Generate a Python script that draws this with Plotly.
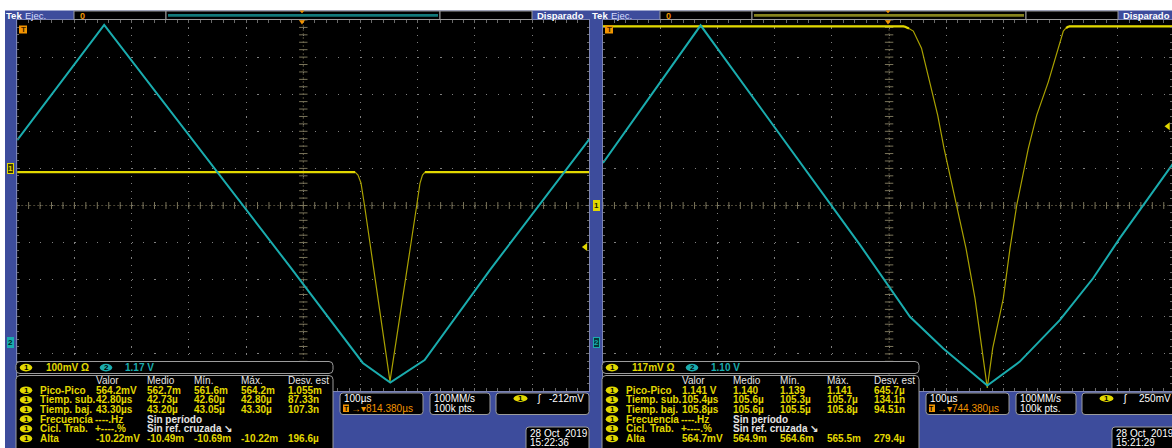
import numpy as np
import plotly.graph_objects as go

W, H = 1172, 448

# ------------------------------------------------------------------ data
time_div_us = 100                      # µs / division, 10 divisions on screen

# ---- left capture (28 Oct 2019 15:22:36)
L_ch1_scale, L_ch1_pos = 100, 1.0      # mV/div, ground position (div)
L_ch2_scale, L_ch2_pos = 1.17, -3.68   # V/div, ground position (div)
L_trig_mv = -212
L_t_ch1 = [0, 590.4, 595.6, 600.8, 607.0, 651.5, 698.2, 704.0, 708.3, 712.7, 1000]
L_v_ch1 = [-10, -10, -17.8, -39.4, -100, -574, -100, -39.4, -17.8, -10, -10]          # mV
L_t_ch2 = [0, 152, 477, 604, 652, 712, 826, 1000]
L_v_ch2 = [6.37, 10.0, 2.37, -0.66, -1.28, -0.57, 2.27, 6.40]                          # V

# ---- right capture (28 Oct 2019 15:21:29)
R_ch1_scale, R_ch1_pos = 117, 0.0
R_ch2_scale, R_ch2_pos = 1.10, -3.68
R_trig_mv = 250
R_t_ch1 = [0, 526, 534.7, 542.3, 556.6, 571.5, 584.9, 596.0, 618.1, 634.4, 650.1, 661.8, 671.6,
           681.1, 699.6, 711.3, 723.0, 743.3, 758.0, 778.3, 795.8, 804.5, 809.3, 814.4, 1000]
R_v_ch1 = [565, 565, 558, 550, 496, 390, 285, 180, 0, -135, -293, -450, -575,
           -450, -293, -135, 0, 180, 285, 390, 496, 550, 560, 565, 565]
R_t_ch2 = [0, 170.6, 449.1, 501.6, 536.5, 594.7, 671.6, 728.4, 798.3, 856.5, 903.2, 1000]
R_v_ch2 = [5.31, 9.39, 2.88, 1.59, 0.75, -0.19, -1.29, -0.58, 0.65, 1.89, 3.08, 5.38]

meas_header = ["Valor", "Medio", "Mín.", "Máx.", "Desv. est"]
L_rows = [
    ("Pico-Pico", ["564.2mV", "562.7m", "561.6m", "564.2m", "1.055m"]),
    ("Tiemp. sub.", ["42.80µs", "42.73µ", "42.60µ", "42.80µ", "87.33n"]),
    ("Tiemp. baj.", ["43.30µs", "43.20µ", "43.05µ", "43.30µ", "107.3n"]),
    ("Frecuencia", ["----.Hz", "Sin período"]),
    ("Cicl. Trab.", ["+----.%", "Sin ref. cruzada ↘"]),
    ("Alta", ["-10.22mV", "-10.49m", "-10.69m", "-10.22m", "196.6µ"]),
]
R_rows = [
    ("Pico-Pico", ["1.141 V", "1.140", "1.139", "1.141", "645.7µ"]),
    ("Tiemp. sub.", ["105.4µs", "105.6µ", "105.3µ", "105.7µ", "134.1n"]),
    ("Tiemp. baj.", ["105.8µs", "105.6µ", "105.5µ", "105.8µ", "94.51n"]),
    ("Frecuencia", ["----.Hz", "Sin período"]),
    ("Cicl. Trab.", ["+----.%", "Sin ref. cruzada ↘"]),
    ("Alta", ["564.7mV", "564.9m", "564.6m", "565.5m", "279.4µ"]),
]
L_info = dict(ch1="100mV Ω", ch2="1.17 V", hscale="100µs", delay="814.380µs",
              rate="100MM/s", pts="100k pts.", trig="-212mV", date="28 Oct\u00a0\u00a02019",
              time="15:22:36")
R_info = dict(ch1="117mV Ω", ch2="1.10 V", hscale="100µs", delay="744.380µs",
              rate="100MM/s", pts="100k pts.", trig="250mV", date="28 Oct\u00a0\u00a02019",
              time="15:21:29")

# ------------------------------------------------------------------ styles
BLUE = "#3d4c9c"
YEL = "#e2d800"
YEL_DIM = "#aaa200"
TEAL = "#1aacae"
ORANGE = "#f29400"
GRID = "#808080"
TICK = "#6a6a6a"
FRAME = "#7c84b4"
BOXLINE = "#9c9c9c"
FONT = "Liberation Sans"
TS = 10            # table / readout text size

shapes, annotations = [], []


def X(px):
    return px / W


def Y(py):
    return 1 - py / H


def rect(x0, y0, x1, y1, fill, line=None, lw=1, layer="above"):
    shapes.append(dict(type="rect", xref="paper", yref="paper", x0=X(x0), x1=X(x1),
                       y0=Y(y1), y1=Y(y0), fillcolor=fill, layer=layer,
                       line=dict(color=line or fill, width=lw if line else 0)))


def rrect(x0, y0, x1, y1, r, fill, line=BOXLINE):
    p = (f"M{X(x0 + r)},{Y(y0)} L{X(x1 - r)},{Y(y0)} Q{X(x1)},{Y(y0)} {X(x1)},{Y(y0 + r)} "
         f"L{X(x1)},{Y(y1 - r)} Q{X(x1)},{Y(y1)} {X(x1 - r)},{Y(y1)} L{X(x0 + r)},{Y(y1)} "
         f"Q{X(x0)},{Y(y1)} {X(x0)},{Y(y1 - r)} L{X(x0)},{Y(y0 + r)} Q{X(x0)},{Y(y0)} {X(x0 + r)},{Y(y0)} Z")
    shapes.append(dict(type="path", xref="paper", yref="paper", path=p, fillcolor=fill,
                       line=dict(color=line, width=1), layer="above"))


def tri(pts, color):
    p = "M" + " L".join(f"{X(a)},{Y(b)}" for a, b in pts) + " Z"
    shapes.append(dict(type="path", xref="paper", yref="paper", path=p, fillcolor=color,
                       line=dict(color=color, width=0), layer="above"))


def hline(x0, x1, y, color, w):
    shapes.append(dict(type="line", xref="paper", yref="paper", x0=X(x0), x1=X(x1),
                       y0=Y(y), y1=Y(y), line=dict(color=color, width=w), layer="above"))


def txt(x, y, s, color, size=TS, anchor="left", bold=False):
    annotations.append(dict(xref="paper", yref="paper", x=X(x), y=Y(y),
                            text=f"<b>{s}</b>" if bold else s, showarrow=False,
                            xanchor=anchor, yanchor="middle", borderpad=0,
                            font=dict(color=color, size=size, family=FONT)))


def badge(cx, cy, label, fill, tcolor, w=12.5, h=7.6):
    shapes.append(dict(type="circle", xref="paper", yref="paper", x0=X(cx - w / 2),
                       x1=X(cx + w / 2), y0=Y(cy + h / 2), y1=Y(cy - h / 2),
                       fillcolor=fill, line=dict(color=fill, width=0), layer="above"))
    txt(cx, cy, label, tcolor, size=8, anchor="center", bold=True)


# white margins of the screenshot
rect(0, 0, W, 10.5, "white", layer="below")
rect(0, 0, 5, H, "white", layer="below")


def panel(o, info, rows, rec_color):
    # header bar
    txt(o + 5, 15.2, "Tek", "white", size=9.5, bold=True)
    txt(o + 24, 15.2, "Ejec.", "#d6dcff", size=9.5)
    rect(o + 74, 11, o + 166, 19.5, "black", BOXLINE)
    rect(o + 166, 11, o + 440, 19.5, "black", BOXLINE)
    rect(o + 440, 11, o + 532, 19.5, "black", BOXLINE)
    hline(o + 168, o + 438, 15.4, rec_color, 2.6)
    txt(o + 79, 15.6, "0", ORANGE, size=9, bold=True)
    txt(o + 536, 15.2, "Disparado", "white", size=9.5, bold=True)
    tri([(o + 299.5, 10.6), (o + 304.5, 10.6), (o + 302, 13.2)], ORANGE)
    tri([(o + 299, 20.2), (o + 305, 20.2), (o + 302, 24.5)], ORANGE)
    # trigger-position badge
    rect(o + 19, 25.5, o + 27, 33.5, ORANGE)
    txt(o + 23, 29.6, "T", "#3a2000", size=8, anchor="center", bold=True)

    # channel readout bar
    rrect(o + 16, 361.5, o + 333, 373.5, 4, "black")
    badge(o + 26, 367.6, "1", YEL, "black")
    txt(o + 45, 367.6, info["ch1"], YEL, bold=True)
    badge(o + 106, 367.6, "2", TEAL, "black")
    txt(o + 124, 367.6, info["ch2"], TEAL, bold=True)

    # measurement table
    rrect(o + 16, 375.5, o + 333, 460, 4, "black")
    cols = [95, 146, 193, 240, 287]
    for c, h in zip(cols, meas_header):
        txt(o + c, 380.6, h, "#e4e4e4")
    for i, (lab, vals) in enumerate(rows):
        yy = 390.2 + i * 9.65
        badge(o + 26, yy, "1", YEL, "black")
        txt(o + 39, yy, lab, YEL, bold=True)
        if len(vals) == 2:
            txt(o + 94, yy, vals[0], YEL, bold=True)
            txt(o + 146, yy, vals[1], "#e4e4e4", bold=True)
        else:
            for c, v in zip(cols, vals):
                txt(o + c, yy, v, YEL, bold=True)

    # horizontal / acquisition / trigger / date boxes
    rrect(o + 340, 393, o + 423, 414.5, 3, "black")
    txt(o + 343, 398.6, info["hscale"], "white")
    rect(o + 343, 404.5, o + 349, 412, ORANGE)
    txt(o + 346, 408.4, "T", "black", size=7, anchor="center", bold=True)
    txt(o + 350, 408.6, "→▾" + info["delay"], ORANGE)
    rrect(o + 430, 393, o + 490, 414.5, 3, "black")
    txt(o + 433, 398.6, info["rate"], "white")
    txt(o + 433, 408.6, info["pts"], "white")
    rrect(o + 496, 393, o + 589, 414.5, 3, "black")
    badge(o + 520.5, 398.4, "1", YEL, "black", w=14, h=7)
    txt(o + 536, 398.6, "ʃ", "white")
    txt(o + 548 if not o else o + 552, 398.6, info["trig"], "white")
    rrect(o + 526, 427, o + 589, 460, 3, "black")
    txt(o + 529, 433.2, info["date"], "white")
    txt(o + 529, 442.6, info["time"], "white")


panel(0, L_info, L_rows, "#12797a")
panel(586, R_info, R_rows, "#85821e")

# ------------------------------------------------------------------ axes
top, bot = 20, 391
xmax_R = 10 * time_div_us * (W - 603) / 572.2


def grat_x(dom, rng, anchor):
    return dict(domain=dom, range=rng, anchor=anchor, showgrid=True, gridcolor=GRID,
                gridwidth=1.1, griddash="1.1px,6.32px", dtick=time_div_us, tick0=0,
                showticklabels=False, zeroline=False, ticks="inside", ticklen=3,
                tickcolor=TICK, showline=True, linecolor=FRAME, linewidth=1,
                mirror="allticks",
                minor=dict(dtick=time_div_us / 5, ticks="inside", ticklen=2,
                           tickcolor=TICK, showgrid=False))


def grat_y(anchor):
    return dict(domain=[Y(bot), Y(top)], range=[-5, 5], anchor=anchor, showgrid=True,
                gridcolor=GRID, gridwidth=1.1, griddash="1.1px,10.34px", dtick=1,
                tick0=0, showticklabels=False, zeroline=False, ticks="inside", ticklen=3,
                tickcolor=TICK, showline=True, linecolor=FRAME, linewidth=1,
                mirror="allticks",
                minor=dict(dtick=0.2, ticks="inside", ticklen=2, tickcolor=TICK,
                           showgrid=False))


def ch_axis(scale, pos, over, anchor):
    return dict(domain=[Y(bot), Y(top)], range=[(-5 - pos) * scale, (5 - pos) * scale],
                overlaying=over, anchor=anchor, visible=False)


layout_axes = dict(
    xaxis=grat_x([X(17.2), X(589.4)], [0, 10 * time_div_us], "y"),
    yaxis=grat_y("x"),
    yaxis2=ch_axis(L_ch1_scale, L_ch1_pos, "y", "x"),
    yaxis3=ch_axis(L_ch2_scale, L_ch2_pos, "y", "x"),
    xaxis2=grat_x([X(603), 1.0], [0, xmax_R], "y4"),
    yaxis4=grat_y("x2"),
    yaxis5=ch_axis(R_ch1_scale, R_ch1_pos, "y4", "x2"),
    yaxis6=ch_axis(R_ch2_scale, R_ch2_pos, "y4", "x2"),
)

fig = go.Figure()


def flat_segments(t, v):
    span = max(v) - min(v)
    ref = v[0]
    xs, ys = [], []
    for i in range(len(t) - 1):
        if abs(v[i] - ref) <= 0.012 * span and abs(v[i + 1] - ref) <= 0.012 * span:
            xs += [t[i], t[i + 1], None]
            ys += [v[i], v[i + 1], None]
    return xs, ys


def add_panel_traces(xa, ya, y1, y2, t1, v1, t2, v2, trig, xmax):
    mid = 5 * time_div_us
    ticks_x = np.arange(0, 10 * time_div_us + 1, time_div_us / 5)
    ticks_y = np.arange(-5, 5.001, 0.2)
    line = dict(color="#4a4534", width=1, dash="2px,2px")
    fig.add_trace(go.Scatter(x=[0, 10 * time_div_us], y=[0, 0], mode="lines", line=line,
                             xaxis=xa, yaxis=ya, hoverinfo="skip"))
    fig.add_trace(go.Scatter(x=[mid, mid], y=[-5, 5], mode="lines", line=line,
                             xaxis=xa, yaxis=ya, hoverinfo="skip"))
    fig.add_trace(go.Scatter(x=ticks_x, y=np.zeros_like(ticks_x), mode="markers",
                             marker=dict(symbol="line-ns", size=5,
                                         line=dict(color="#7a745a", width=1)),
                             xaxis=xa, yaxis=ya, hoverinfo="skip"))
    fig.add_trace(go.Scatter(x=np.full_like(ticks_y, mid), y=ticks_y, mode="markers",
                             marker=dict(symbol="line-ew", size=6,
                                         line=dict(color="#7a745a", width=1)),
                             xaxis=xa, yaxis=ya, hoverinfo="skip"))
    # channel 2 (teal)
    fig.add_trace(go.Scatter(x=t2, y=v2, mode="lines", line=dict(color=TEAL, width=2),
                             xaxis=xa, yaxis=y2))
    # channel 1 (yellow): thin fast edges, bright flat levels
    fig.add_trace(go.Scatter(x=t1, y=v1, mode="lines", line=dict(color=YEL_DIM, width=1.2),
                             xaxis=xa, yaxis=y1))
    fx, fy = flat_segments(t1, v1)
    fig.add_trace(go.Scatter(x=fx, y=fy, mode="lines", line=dict(color=YEL, width=2.2),
                             xaxis=xa, yaxis=y1))
    # trigger level marker
    fig.add_trace(go.Scatter(x=[xmax * 0.993], y=[trig], mode="markers",
                             marker=dict(symbol="triangle-left", size=7, color=YEL),
                             xaxis=xa, yaxis=y1, cliponaxis=False))


add_panel_traces("x", "y", "y2", "y3", L_t_ch1, L_v_ch1, L_t_ch2, L_v_ch2, L_trig_mv,
                 10 * time_div_us)
add_panel_traces("x2", "y4", "y5", "y6", R_t_ch1, R_v_ch1, R_t_ch2, R_v_ch2, R_trig_mv,
                 xmax_R)


def ch_marker(xpx, yref, label, fill, border, tcolor):
    annotations.append(dict(xref="paper", yref=yref, x=X(xpx), y=0, text=f"<b>{label}</b>",
                            showarrow=False, xanchor="center", yanchor="middle",
                            bgcolor=fill, bordercolor=border, borderwidth=1, borderpad=0,
                            font=dict(color=tcolor, size=8, family=FONT)))


ch_marker(10.5, "y2", "1", "#3c3800", YEL, YEL)
ch_marker(10.5, "y3", "2", TEAL, TEAL, "#002020")
ch_marker(596.5, "y5", "1", YEL, YEL, "#222000")
ch_marker(596.5, "y6", "2", "#053838", TEAL, TEAL)

fig.update_layout(width=W, height=H, margin=dict(l=0, r=0, t=0, b=0),
                  paper_bgcolor=BLUE, plot_bgcolor="black", showlegend=False,
                  shapes=shapes, annotations=annotations,
                  font=dict(family=FONT), **layout_axes)

fig.write_html("out.html", config={"displayModeBar": False},
               post_script="document.body.style.margin='0';document.body.style.overflow='hidden';")
